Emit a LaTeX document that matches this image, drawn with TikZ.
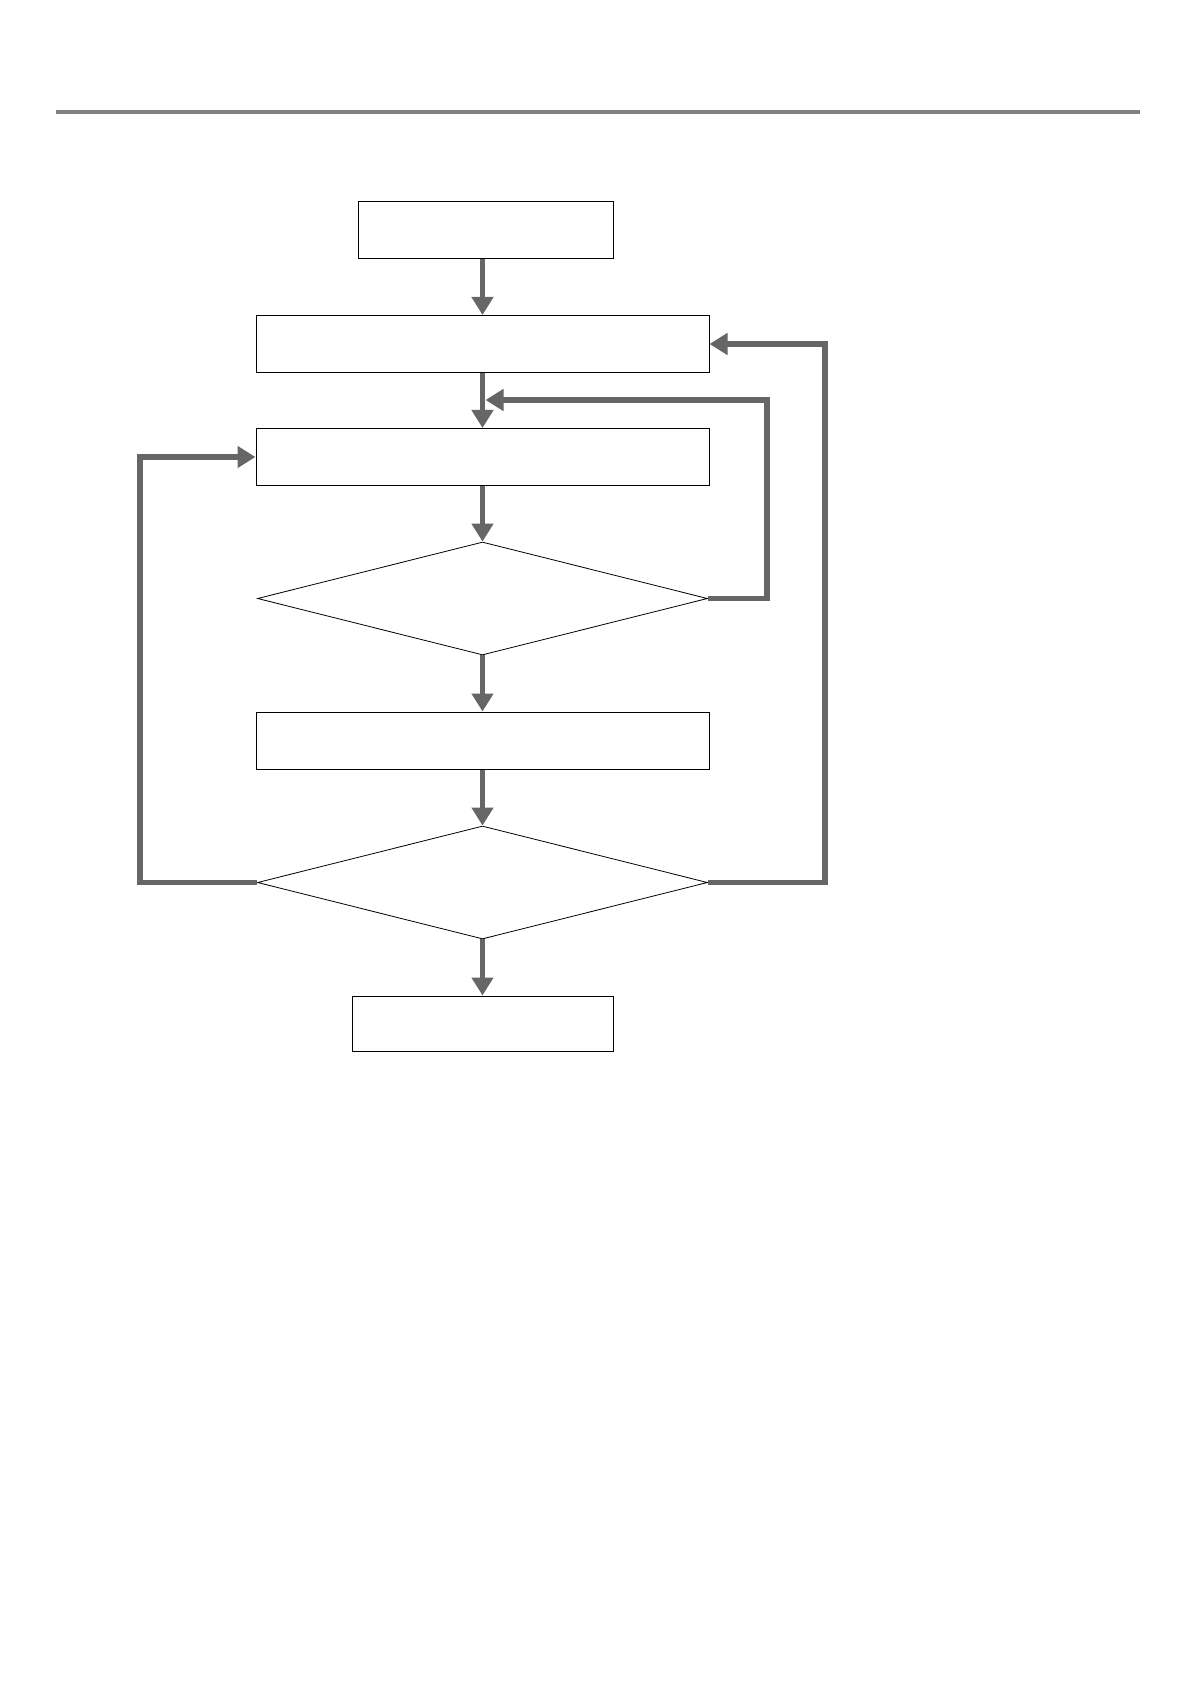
\documentclass[tikz,border=0pt]{standalone}
\usetikzlibrary{arrows.meta,shapes.geometric}
\definecolor{conngray}{HTML}{666666}
\definecolor{rulegray}{HTML}{808080}
\begin{document}
\begin{tikzpicture}[x=0.5pt,y=-0.5pt,
  box/.style={draw=black,line width=0.5pt,rectangle,inner sep=0pt,minimum width=226.5pt,minimum height=28.5pt},
  dia/.style={draw=black,line width=0.4pt,diamond,inner sep=0pt,minimum width=225pt,minimum height=56.5pt},
  conn/.style={draw=conngray,line width=2.7pt,line join=miter,-{Triangle[length=9pt,width=10.5pt]}}]
\useasboundingbox[fill=white] (0,0) rectangle (1190,1684);
\draw[rulegray,line width=2pt] (56,112) -- (1140,112);
\node[box,minimum width=127.5pt] (start) at (485.5,230.5) {};
\node[box] (b2) at (482.5,344) {};
\node[box] (b3) at (482.5,457) {};
\node[dia] (d1) at (482.5,598.5) {};
\node[box] (b4) at (482.5,740.5) {};
\node[dia] (d2) at (482.5,882.5) {};
\node[box,minimum width=130.5pt,minimum height=27.5pt] (end) at (482.5,1023.5) {};
\coordinate (join) at (485.5,400);
\draw[conn] (start.south -| b2.north) -- (b2.north);
\draw[conn] (b2.south) -- (b3.north);
\draw[conn] (b3.south) -- (d1.north);
\draw[conn] (d1.south) -- (b4.north);
\draw[conn] (b4.south) -- (d2.north);
\draw[conn] (d2.south) -- (end.north);
\draw[conn] (d1.east) -- ++(59,0) |- (join);
\draw[conn] (d2.east) -- ++(117,0) |- (b2.east);
\draw[conn] (d2.west) -- ++(-117,0) |- (b3.west);
\end{tikzpicture}
\end{document}
